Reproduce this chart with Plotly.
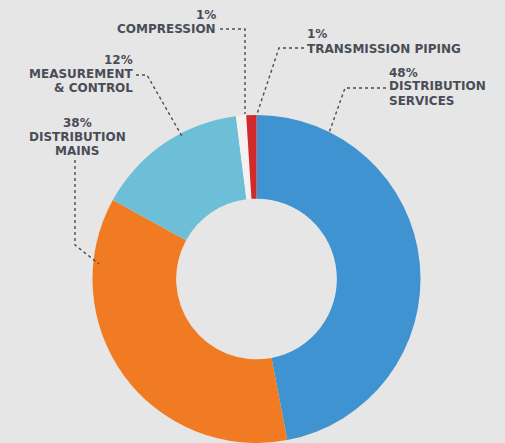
import plotly.graph_objects as go

# Data (slice shares as drawn; label percentages as printed)
categories = ["Distribution Services", "Distribution Mains", "Measurement & Control",
              "Compression", "Transmission Piping"]
shares = [47, 36, 15, 1, 1]
pct_labels = ["48%", "38%", "12%", "1%", "1%"]
label_lines = [["DISTRIBUTION", "SERVICES"], ["DISTRIBUTION", "MAINS"],
               ["MEASUREMENT", "& CONTROL"], ["COMPRESSION"], ["TRANSMISSION PIPING"]]
colors = ["#3f93d0", "#f07b22", "#6cbfd6", "#f6f1f1", "#d22a2a"]

W, H = 505, 443
BG = "#e6e6e6"
TXT = "#4a4d56"
FONT = dict(family="DejaVu Sans", size=12, color=TXT, weight="bold")


def px(x):
    return x / W


def py(y):
    return 1 - y / H


fig = go.Figure(go.Pie(
    labels=categories, values=shares, sort=False, direction="clockwise", rotation=0,
    hole=0.49, marker=dict(colors=colors, line=dict(width=0)),
    textinfo="none", hoverinfo="label+percent", showlegend=False,
    domain=dict(x=[92.5 / W, 420.5 / W], y=[0, 328 / H]),
))

# label blocks: (index, x, anchor, y of each line)
blocks = [
    (0, 388, "left", [72.5, 86.5, 100.5]),
    (1, 77, "center", [123, 137, 151]),
    (2, 134, "right", [60, 74, 88]),
    (3, 217, "right", [15, 29]),
    (4, 306, "left", [34, 48.5]),
]
annotations = []
for i, x, anchor, ys in blocks:
    lines = [pct_labels[i]] + label_lines[i]
    for text, y in zip(lines, ys):
        annotations.append(dict(x=px(x), y=py(y), xref="paper", yref="paper",
                                text=text, showarrow=False, xanchor=anchor,
                                yanchor="middle", font=FONT, borderpad=0))

# dotted leader lines (pixel paths)
leaders = [
    [(386, 88), (345, 88), (329, 133)],
    [(75, 160), (75, 245), (99, 264)],
    [(136, 75), (147, 75), (183, 138)],
    [(220, 29), (245, 29), (245, 114)],
    [(304, 48), (279, 48), (257, 114)],
]
shapes = []
for pts in leaders:
    path = "M " + " L ".join(f"{px(x):.5f},{py(y):.5f}" for x, y in pts)
    shapes.append(dict(type="path", path=path, xref="paper", yref="paper",
                       line=dict(color="#4a4d56", width=1.4, dash="dot")))

fig.update_layout(
    width=W, height=H, margin=dict(l=0, r=0, t=0, b=0),
    paper_bgcolor=BG, plot_bgcolor=BG,
    annotations=annotations, shapes=shapes,
)

fig.write_html("out.html", config={"displayModeBar": False},
               post_script="document.body.style.margin='0';document.body.style.background='#e6e6e6';")
